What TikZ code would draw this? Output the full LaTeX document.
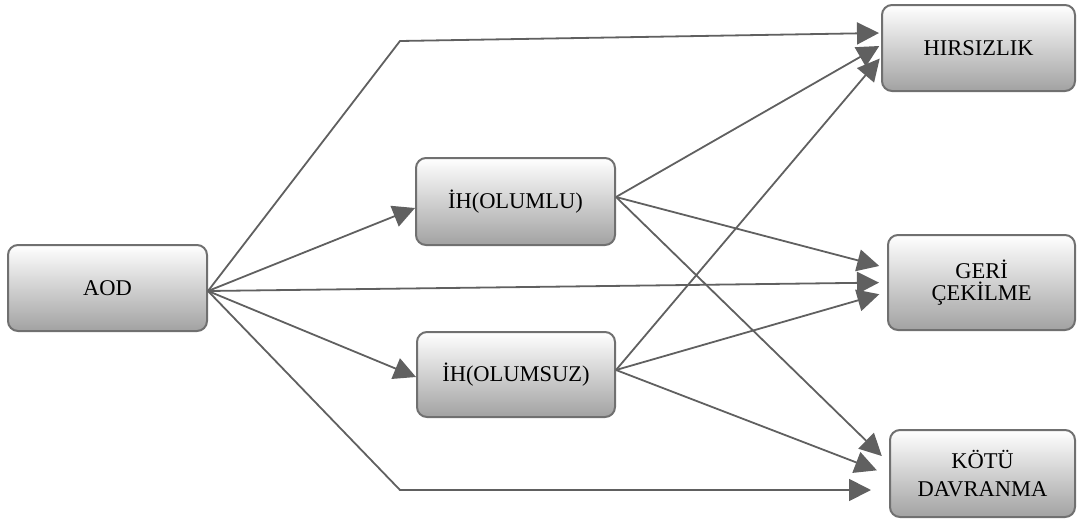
\documentclass[tikz,border=0pt]{standalone}
\usepackage{fontspec}
\setmainfont{Liberation Serif}
\newfontfamily\tnr{Liberation Serif}
\usetikzlibrary{arrows.meta}
\definecolor{edgegray}{HTML}{606060}
\definecolor{boxline}{HTML}{707070}
\definecolor{boxbottom}{HTML}{A2A2A2}
\tikzset{
  box/.style={draw=boxline, line width=2pt, rounded corners=10pt,
    top color=white, bottom color=boxbottom, align=center,
    font=\tnr\fontsize{22.5}{28}\selectfont, inner sep=0pt},
  conn/.style={draw=edgegray, line width=1.8pt,
    -{Triangle[length=22pt,width=22pt,fill=edgegray]}, line join=miter}
}
\begin{document}
\begin{tikzpicture}[x=1pt,y=-1pt]
\useasboundingbox (0,0) rectangle (1077,520);
\node[box, minimum width=199pt, minimum height=86pt] (aod) at (107.5,288) {\tnr AOD};
\node[box, minimum width=199pt, minimum height=87pt] (olumlu) at (515.5,201.5) {\tnr İH(OLUMLU)};
\node[box, minimum width=198pt, minimum height=85pt] (olumsuz) at (516,374.5) {\tnr İH(OLUMSUZ)};
\node[box, minimum width=193pt, minimum height=86pt] (hirs) at (978.5,48) {\tnr HIRSIZLIK};
\node[box, minimum width=187pt, minimum height=95pt, font=\tnr\fontsize{22.5}{23}\selectfont] (geri) at (981.5,282.5) {\raisebox{-10pt}{\shortstack{\tnr GERİ\\[1pt]\tnr ÇEKİLME}}};
\node[box, minimum width=185pt, minimum height=87pt] (kotu) at (982.5,473.5) {\tnr KÖTÜ\\\tnr DAVRANMA};

\coordinate (bt) at (400,41);
\coordinate (bb) at (400,490);

% from AOD
\draw[conn] ([yshift=-3pt]aod.east) -- (bt) -- ([yshift=15pt,xshift=-2pt]hirs.west);
\draw[conn] ([yshift=-3pt]aod.east) -- ([yshift=-6.5pt]olumlu.west);
\draw[conn, shorten >=8pt] ([yshift=-3pt]aod.east) -- ([yshift=0pt]geri.west);
\draw[conn] ([yshift=-3pt]aod.east) -- ([yshift=-2.5pt]olumsuz.west);
\draw[conn, shorten >=18pt] ([yshift=-3pt]aod.east) -- (bb) -- ([yshift=-16.5pt]kotu.west);

% from OLUMLU
\draw[conn, shorten >=2pt] ([yshift=4.5pt]olumlu.east) -- ([yshift=3pt]hirs.west);
\draw[conn, shorten >=8pt] ([yshift=4.5pt]olumlu.east) -- ([yshift=14.5pt]geri.west);
\draw[conn, shorten >=10pt] ([yshift=4.5pt]olumlu.east) -- ([yshift=10.5pt]kotu.west);

% from OLUMSUZ
\draw[conn, shorten >=2pt] ([yshift=4.5pt]olumsuz.east) -- ([yshift=-9pt]hirs.west);
\draw[conn, shorten >=8pt] ([yshift=4.5pt]olumsuz.east) -- ([yshift=-9.5pt]geri.west);
\draw[conn, shorten >=13pt] ([yshift=4.5pt]olumsuz.east) -- ([yshift=-1.5pt]kotu.west);
\end{tikzpicture}
\end{document}
